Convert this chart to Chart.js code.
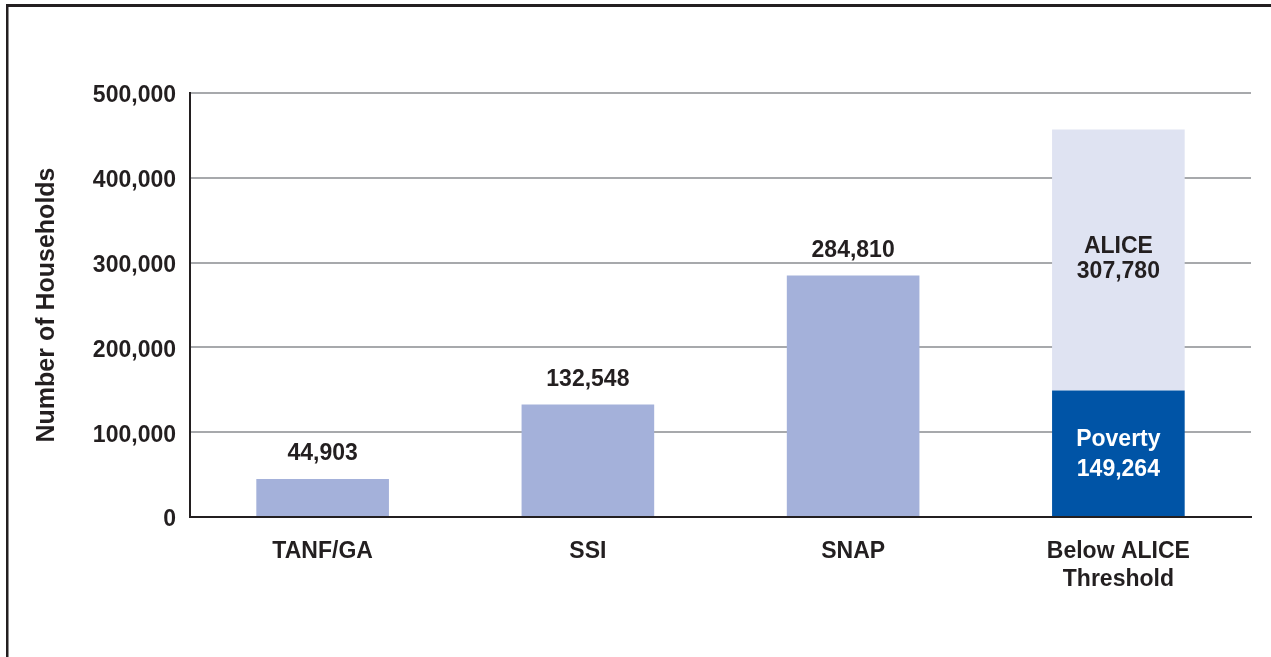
<!DOCTYPE html>
<html>
<head>
<meta charset="utf-8">
<script src="https://cdn.jsdelivr.net/npm/chart.js@4/dist/chart.umd.min.js"></script>
<style>
  html, body { margin: 0; padding: 0; background: #ffffff; }
  #wrap { position: relative; width: 1271px; height: 657px; }
</style>
</head>
<body>
<div id="wrap"><canvas id="c" width="1271" height="657"></canvas></div>
<script>
// ---- data ----
const categories = ["TANF/GA", "SSI", "SNAP", ["Below ALICE", "Threshold"]];
const programValues = [44903, 132548, 284810, null];
const povertyValues = [null, null, null, 149264];
const aliceValues = [null, null, null, 307780];
const yTickValues = [0, 100000, 200000, 300000, 400000, 500000];

const FONT = "'Liberation Sans', Arial, Helvetica, sans-serif";
const DARK = "#231F20";
const fmt = v => v.toLocaleString("en-US");

const framePlugin = {
  id: "frame",
  beforeDraw(chart) {
    const ctx = chart.ctx;
    ctx.save();
    ctx.fillStyle = "#ffffff";
    ctx.fillRect(0, 0, chart.width, chart.height);
    ctx.fillStyle = DARK;
    ctx.fillRect(6, 4, chart.width - 6, 3);
    ctx.fillRect(6, 4, 2.5, chart.height - 4);
    ctx.restore();
  }
};

const labelPlugin = {
  id: "barLabels",
  afterDatasetsDraw(chart) {
    const ctx = chart.ctx;
    ctx.save();
    ctx.textAlign = "center";
    ctx.textBaseline = "middle";
    ctx.font = "bold 23px " + FONT;
    chart.data.datasets.forEach((ds, di) => {
      const meta = chart.getDatasetMeta(di);
      meta.data.forEach((bar, i) => {
        const v = ds.data[i];
        if (v === null || v === undefined) return;
        const p = bar.getProps(["x", "y", "base"], true);
        if (ds.inside) {
          const mid = (p.y + p.base) / 2;
          const gap = ds.lineGap;
          ctx.fillStyle = ds.labelColor;
          ctx.fillText(ds.label, p.x, mid - gap / 2 + ds.shift);
          ctx.fillText(fmt(v), p.x, mid + gap / 2 + ds.shift);
        } else {
          ctx.fillStyle = DARK;
          ctx.fillText(fmt(v), p.x, p.y - 25);
        }
      });
    });
    ctx.restore();
  }
};

new Chart(document.getElementById("c"), {
  type: "bar",
  data: {
    labels: categories,
    datasets: [
      { label: "Programs", data: programValues, backgroundColor: "#A4B1DA", inside: false },
      { label: "Poverty", data: povertyValues, backgroundColor: "#0054A6", inside: true, labelColor: "#ffffff", lineGap: 30, shift: 1 },
      { label: "ALICE", data: aliceValues, backgroundColor: "#DFE3F2", inside: true, labelColor: DARK, lineGap: 25, shift: -1 }
    ]
  },
  options: {
    responsive: false,
    animation: false,
    devicePixelRatio: 1,
    layout: { padding: { top: 93, right: 20, bottom: 0, left: 0 } },
    datasets: { bar: { barPercentage: 0.5, categoryPercentage: 1.0, borderWidth: 0 } },
    plugins: { legend: { display: false }, tooltip: { enabled: false } },
    scales: {
      x: {
        stacked: true,
        grid: { display: false, drawTicks: false },
        border: { display: true, color: DARK, width: 2 },
        ticks: { color: DARK, font: { family: FONT, size: 23, weight: "bold", lineHeight: 1.25 }, padding: 20, maxRotation: 0, autoSkip: false },
        afterFit(scale) { scale.height = 140; }
      },
      y: {
        stacked: true,
        min: 0,
        max: 500000,
        afterBuildTicks(scale) { scale.ticks = yTickValues.map(v => ({ value: v })); },
        grid: { color: "#A7A9AC", lineWidth: 2, drawTicks: false },
        border: { display: true, color: DARK, width: 2 },
        ticks: { color: DARK, font: { family: FONT, size: 23, weight: "bold" }, padding: 14, labelOffset: 3, callback: v => fmt(v) },
        title: { display: true, text: "Number of Households", color: DARK, font: { family: FONT, size: 25, weight: "bold" }, padding: { top: 32, bottom: 0 } },
        afterFit(scale) { scale.width = 190; }
      }
    }
  },
  plugins: [framePlugin, labelPlugin]
});
</script>
</body>
</html>
